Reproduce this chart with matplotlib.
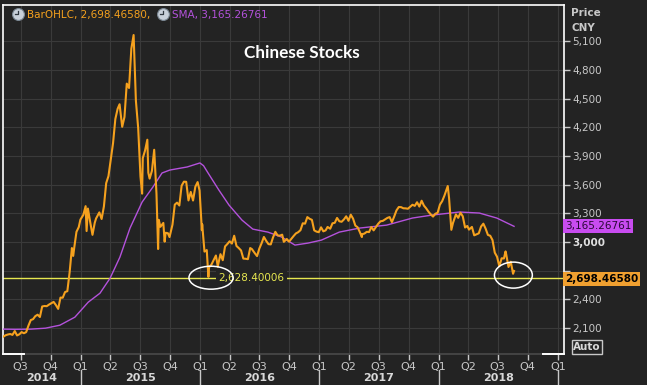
import matplotlib
matplotlib.use('Agg')
import matplotlib.pyplot as plt
import matplotlib.dates as mdates
from matplotlib.patches import Ellipse
from matplotlib.lines import Line2D
from matplotlib.transforms import blended_transform_factory, offset_copy, IdentityTransform
import pandas as pd

# ---------------- data ----------------
price_dates = [
 '2014-05-09','2014-05-16','2014-05-23','2014-05-30','2014-06-06','2014-06-13','2014-06-20','2014-06-27',
 '2014-07-04','2014-07-11','2014-07-18','2014-07-25','2014-08-01','2014-08-08','2014-08-15','2014-08-22',
 '2014-08-29','2014-09-05','2014-09-12','2014-09-19','2014-09-26','2014-10-10','2014-10-17','2014-10-24',
 '2014-10-31','2014-11-07','2014-11-14','2014-11-21','2014-11-28','2014-12-05','2014-12-09','2014-12-12',
 '2014-12-19','2014-12-26','2014-12-31','2015-01-09','2015-01-16','2015-01-19','2015-01-23','2015-01-30',
 '2015-02-06','2015-02-13','2015-02-17','2015-02-27','2015-03-06','2015-03-13','2015-03-20','2015-03-27',
 '2015-04-03','2015-04-10','2015-04-17','2015-04-24','2015-04-30','2015-05-08','2015-05-15','2015-05-22',
 '2015-05-28','2015-05-29','2015-06-05','2015-06-12','2015-06-19','2015-06-26','2015-07-03','2015-07-08',
 '2015-07-10','2015-07-17','2015-07-24','2015-07-27','2015-07-31','2015-08-07','2015-08-14','2015-08-21',
 '2015-08-26','2015-08-28','2015-09-02','2015-09-11','2015-09-15','2015-09-18','2015-09-25','2015-09-30',
 '2015-10-09','2015-10-16','2015-10-23','2015-10-30','2015-11-06','2015-11-13','2015-11-20','2015-11-27',
 '2015-12-04','2015-12-11','2015-12-18','2015-12-25','2015-12-31','2016-01-07','2016-01-08','2016-01-15',
 '2016-01-22','2016-01-27','2016-01-29','2016-02-05','2016-02-19','2016-02-25','2016-02-26','2016-03-04',
 '2016-03-11','2016-03-18','2016-03-25','2016-04-01','2016-04-08','2016-04-15','2016-04-22','2016-04-29',
 '2016-05-06','2016-05-13','2016-05-20','2016-05-27','2016-06-03','2016-06-08','2016-06-17','2016-06-24',
 '2016-07-01','2016-07-08','2016-07-15','2016-07-22','2016-07-29','2016-08-05','2016-08-12','2016-08-19',
 '2016-08-26','2016-09-02','2016-09-09','2016-09-14','2016-09-23','2016-09-30','2016-10-14','2016-10-21',
 '2016-10-28','2016-11-04','2016-11-11','2016-11-18','2016-11-25','2016-12-02','2016-12-09','2016-12-16',
 '2016-12-23','2016-12-30','2017-01-06','2017-01-13','2017-01-20','2017-01-26','2017-02-03','2017-02-10',
 '2017-02-17','2017-02-24','2017-03-03','2017-03-10','2017-03-17','2017-03-24','2017-03-31','2017-04-07',
 '2017-04-14','2017-04-21','2017-04-28','2017-05-05','2017-05-11','2017-05-12','2017-05-19','2017-05-26',
 '2017-06-02','2017-06-09','2017-06-16','2017-06-23','2017-06-30','2017-07-07','2017-07-14','2017-07-21',
 '2017-07-28','2017-08-04','2017-08-11','2017-08-18','2017-08-25','2017-09-01','2017-09-08','2017-09-15',
 '2017-09-22','2017-09-29','2017-10-13','2017-10-20','2017-10-27','2017-11-03','2017-11-10','2017-11-17',
 '2017-11-24','2017-12-01','2017-12-08','2017-12-15','2017-12-22','2017-12-29','2018-01-05','2018-01-12',
 '2018-01-19','2018-01-26','2018-01-29','2018-02-02','2018-02-09','2018-02-14','2018-02-23','2018-03-02',
 '2018-03-09','2018-03-16','2018-03-23','2018-03-30','2018-04-04','2018-04-13','2018-04-20','2018-04-27',
 '2018-05-04','2018-05-11','2018-05-18','2018-05-25','2018-06-01','2018-06-08','2018-06-15','2018-06-22',
 '2018-06-29','2018-07-06','2018-07-13','2018-07-20','2018-07-25','2018-07-27','2018-08-03','2018-08-10',
 '2018-08-17','2018-08-20']
price_values = [
 2011,2026,2034,2039,2030,2070,2024,2036,
 2059,2047,2059,2127,2185,2194,2226,2241,
 2217,2327,2332,2330,2347,2375,2342,2302,
 2420,2419,2478,2487,2683,2938,2856,2938,
 3108,3157,3235,3285,3376,3116,3351,3210,
 3076,3203,3247,3311,3242,3373,3617,3691,
 3864,4035,4287,4394,4442,4206,4309,4658,
 4620,4612,5023,5166,4478,4193,3687,3507,
 3878,3958,4071,3726,3664,3745,3966,3508,
 2928,3233,3160,3201,3005,3098,3093,3053,
 3183,3392,3413,3383,3590,3632,3631,3436,
 3525,3435,3579,3628,3539,3125,3186,2901,
 2917,2636,2738,2763,2860,2742,2767,2874,
 2811,2955,2980,3009,2985,3067,2960,2938,
 2913,2828,2826,2822,2938,2928,2885,2854,
 2933,2989,3054,3013,2979,2976,3050,3108,
 3070,3068,3078,3003,3033,3005,3064,3091,
 3104,3125,3197,3193,3262,3244,3233,3123,
 3110,3104,3155,3113,3123,3159,3140,3197,
 3202,3253,3218,3213,3237,3270,3223,3287,
 3246,3173,3155,3103,3053,3083,3090,3108,
 3105,3158,3123,3158,3192,3218,3222,3238,
 3253,3262,3209,3268,3332,3367,3366,3354,
 3353,3349,3391,3379,3417,3372,3433,3382,
 3353,3318,3290,3267,3297,3307,3392,3429,
 3488,3558,3587,3462,3129,3200,3290,3254,
 3307,3270,3153,3169,3131,3159,3071,3082,
 3092,3163,3193,3141,3075,3067,3022,2890,
 2847,2747,2831,2829,2903,2873,2740,2795,
 2669,2698.46580]

sma_dates = ['2014-05-09','2014-06-15','2014-08-01','2014-09-15','2014-10-29','2014-12-14','2015-01-24',
             '2015-03-01','2015-04-01','2015-05-01','2015-06-01','2015-07-08','2015-08-10','2015-09-07',
             '2015-10-01','2015-11-23','2016-01-01','2016-01-12','2016-01-26','2016-02-28','2016-03-30',
             '2016-05-09','2016-06-11','2016-07-27','2016-09-08','2016-10-18','2016-11-27','2017-01-07',
             '2017-03-03','2017-05-04','2017-07-26','2017-10-13','2017-12-12','2018-03-06','2018-05-06',
             '2018-06-28','2018-08-20']
sma_values = [2090,2088,2090,2100,2131,2215,2372,
              2466,2623,2843,3147,3419,3576,3723,
              3754,3786,3828,3800,3723,3545,3388,
              3230,3136,3105,3052,2969,2990,3021,
              3105,3147,3178,3252,3283,3315,3304,
              3252,3165.26761]

quarter_labels = ['Q3','Q4','Q1','Q2','Q3','Q4','Q1','Q2','Q3','Q4',
                  'Q1','Q2','Q3','Q4','Q1','Q2','Q3','Q4','Q1']
year_labels = ['2014','2015','2016','2017','2018']
y_ticks = [2100,2400,2700,3000,3300,3600,3900,4200,4500,4800,5100]
hidden_y_labels = [2700]   # covered by the last-price tag in the reference

last_price = 2698.46580
last_sma = 3165.26761
support_level = 2628.40006
title_text = 'Chinese Stocks'

# annotation ellipses: (center date, center value, width days, height value)
ellipses = [('2016-02-04', 2628, 135, 240), ('2018-08-18', 2655, 116, 272)]

# ---------------- style ----------------
BG = '#232323'
GRID = '#3a3a3a'
TXT = '#c8c8c8'
ORANGE = '#f5a11e'
PURPLE = '#b452dc'
YELLOW = '#e8e850'

W, H = 647, 385
fig = plt.figure(figsize=(W/100, H/100), dpi=100, facecolor=BG)
ax = fig.add_axes([3/W, (H-354)/H, 561/W, 349/H])
ax.set_facecolor(BG)

pd_dates = mdates.date2num(pd.to_datetime(price_dates))
sd_dates = mdates.date2num(pd.to_datetime(sma_dates))

ax.axhline(support_level, color=YELLOW, lw=1.0, zorder=2)
ax.plot(sd_dates, sma_values, color=PURPLE, lw=1.0, zorder=3)
ax.plot(pd_dates, price_values, color=ORANGE, lw=1.5, zorder=4)

xmin = mdates.date2num(pd.Timestamp('2014-05-08'))
xmax = mdates.date2num(pd.Timestamp('2019-01-20'))
ax.set_xlim(xmin, xmax)
ax.set_ylim(1830, 5480)

qticks = mdates.date2num(pd.date_range('2014-07-01', '2019-01-01', freq='QS'))
ax.set_xticks(qticks, labels=quarter_labels)
ax.tick_params(axis='x', colors=TXT, length=4, width=1, pad=2, labelsize=8, direction='out')

ax.yaxis.tick_right()
ax.set_yticks(y_ticks, labels=['' if v in hidden_y_labels else f'{v:,}' for v in y_ticks])
ax.tick_params(axis='y', colors=TXT, length=4, width=1, pad=2, labelsize=7.5)
for lbl in ax.get_yticklabels():
    if lbl.get_text() == '3,000':
        lbl.set_fontweight('bold')
        lbl.set_color('#e0e0e0')

ax.grid(True, color=GRID, lw=0.8)
ax.set_axisbelow(True)

for s in ['top', 'left', 'right']:
    ax.spines[s].set_color('white')
    ax.spines[s].set_linewidth(1.2)
ax.spines['bottom'].set_color('#4a4a4a')
ax.spines['bottom'].set_linewidth(1.2)
ax.plot([0, 0.038], [0, 0], transform=ax.transAxes, color='white', lw=1.4, clip_on=False, zorder=6)
ax.plot([0.962, 1], [0, 0], transform=ax.transAxes, color='white', lw=1.4, clip_on=False, zorder=6)

# year labels and separators
btrans = blended_transform_factory(ax.transData, ax.transAxes)
for i, yl in enumerate(year_labels):
    y0 = mdates.date2num(pd.Timestamp(f'{yl}-01-01'))
    y1 = mdates.date2num(pd.Timestamp(f'{int(yl)+1}-01-01'))
    c = (max(y0, xmin) + min(y1, xmax)) / 2
    ax.text(c, -0.068, yl, transform=btrans, ha='center', va='center',
            fontsize=8, fontweight='bold', color='#d8d8d8')
    ax.plot([y1, y1], [-0.045, -0.09], transform=btrans, color='#c8c8c8', lw=1.0, clip_on=False)

# support label
ax.text(mdates.date2num(pd.Timestamp('2016-02-26')), support_level, f'{support_level:,.5f}',
        color=YELLOW, fontsize=7.5, va='center', ha='left', zorder=3,
        bbox=dict(boxstyle='square,pad=0.25', fc=BG, ec='none'))

for d, v, wd, hv in ellipses:
    ax.add_patch(Ellipse((mdates.date2num(pd.Timestamp(d)), v), wd, hv, fill=False,
                         ec='white', lw=1.1, zorder=6))

# price tags
rtrans = blended_transform_factory(ax.transAxes, ax.transData)
ax.text(1.002, last_sma, f'{last_sma:,.5f}', transform=rtrans, ha='left', va='center',
        fontsize=7.5, color='#2a0838', clip_on=False, zorder=8,
        bbox=dict(boxstyle='square,pad=0.18', fc='#c84cf0', ec='none'))
ax.text(1.002, last_price, f'{last_price:,.5f}', transform=offset_copy(rtrans, fig=fig, x=0, y=-8, units='dots'),
        ha='left', va='center', fontsize=7.5, fontweight='bold', color='black', clip_on=False, zorder=8,
        bbox=dict(boxstyle='square,pad=0.18', fc='#f0a030', ec='none'))

# title
fig.text(302/W, 1-53/H, title_text, color='white', fontsize=12.3, fontweight='bold',
         family='Lato', ha='center', va='center')

# right header
fig.text(571/W, 1-13/H, 'Price', color=TXT, fontsize=7.5, fontweight='bold', ha='left', va='center')
fig.text(571/W, 1-28/H, 'CNY', color=TXT, fontsize=7.5, fontweight='bold', ha='left', va='center')
fig.text(587/W, 1-347/H, 'Auto', color='#d8d8d8', fontsize=7.5, fontweight='bold', ha='center', va='center',
         bbox=dict(boxstyle='square,pad=0.15', fc='none', ec='#c8c8c8', lw=1))

# legend with clock icons
for cx in (18, 163):
    fig.add_artist(Line2D([cx], [H-14], transform=IdentityTransform(), marker='o', markersize=8.5,
                          mfc='#c8d0da', mec='#7d8a96', mew=0.8, ls='none'))
    fig.add_artist(Line2D([cx-3, cx, cx], [H-14, H-14, H-11], transform=IdentityTransform(),
                          color='#303840', lw=0.9))
fig.text(27/W, 1-15/H, f'BarOHLC, {last_price:,.5f},', color=ORANGE, fontsize=7.5, ha='left', va='center')
fig.text(172/W, 1-15/H, f'SMA, {last_sma:,.5f}', color=PURPLE, fontsize=7.5, ha='left', va='center')

fig.savefig('out.png', dpi=100, facecolor=BG)
